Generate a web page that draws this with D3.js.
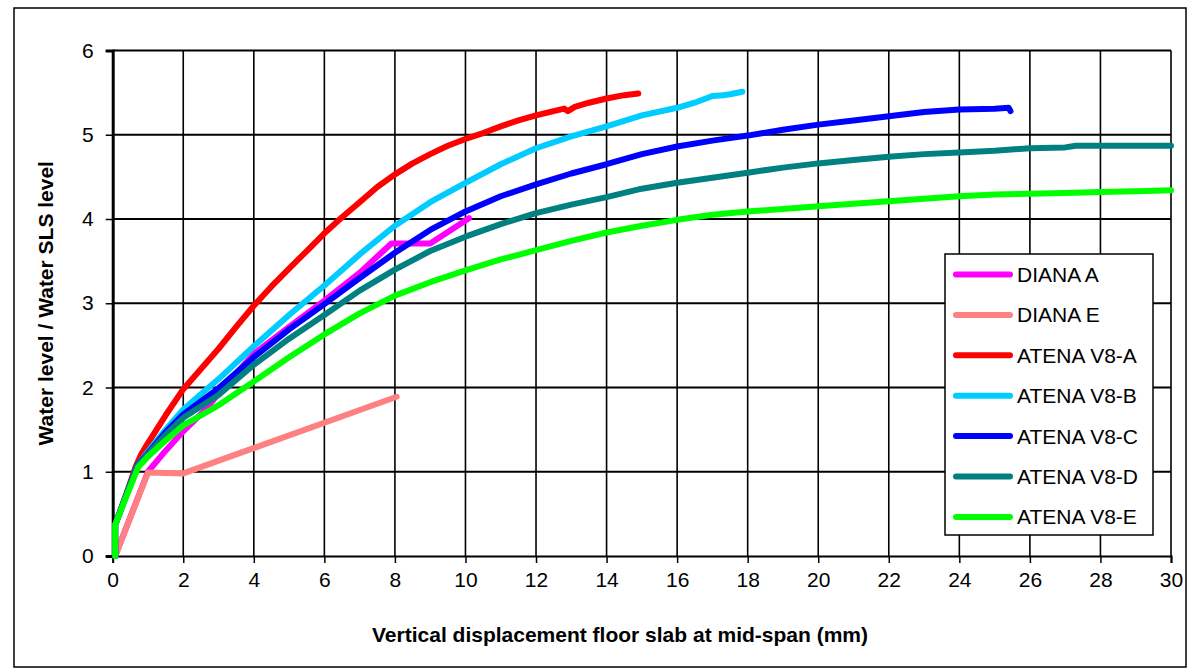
<!DOCTYPE html>
<html>
<head>
<meta charset="utf-8">
<script src="https://cdn.jsdelivr.net/npm/d3@7"></script>
<style>
  html, body { margin: 0; padding: 0; background: #fff; }
  svg { display: block; font-family: "Liberation Sans", Arial, sans-serif; }
</style>
</head>
<body>
<svg id="chart" width="1193" height="671"></svg>
<script>
// Load–deflection results: water level ratio vs. mid-span slab displacement
const xTicks = [0, 2, 4, 6, 8, 10, 12, 14, 16, 18, 20, 22, 24, 26, 28, 30];
const yTicks = [0, 1, 2, 3, 4, 5, 6];

const seriesNames = ["DIANA A", "DIANA E", "ATENA V8-A", "ATENA V8-B", "ATENA V8-C", "ATENA V8-D", "ATENA V8-E"];
const seriesColors = ["#FF00FF", "#FF8080", "#FF0000", "#00CCFF", "#0000FF", "#008080", "#00FF00"];

// [displacement (mm), water level / SLS level]
const dianaA = [[0.07,0],[1.0,1.0],[1.5,1.25],[2.0,1.48],[2.66,1.75],[3,1.93],[4,2.4],[5,2.72],[6,3.03],[7,3.36],[7.9,3.71],[9.0,3.71],[10.1,4.01]];
const dianaE = [[0.07,0],[1.0,0.99],[2.0,0.98],[8.05,1.89]];
const atenaA = [[0.07,0],[0.07,0.37],[0.4,0.75],[0.65,1.06],[0.8,1.2],[1,1.34],[1.5,1.67],[2,1.98],[2.5,2.22],[3,2.46],[3.5,2.72],[4,2.97],[4.5,3.2],[5,3.41],[5.5,3.62],[6,3.83],[6.5,4.02],[7,4.2],[7.5,4.38],[8,4.53],[8.5,4.66],[9,4.77],[9.5,4.87],[10,4.95],[10.5,5.02],[11,5.1],[11.5,5.17],[12,5.23],[12.5,5.28],[12.8,5.31],[12.9,5.28],[13.1,5.33],[13.5,5.38],[14,5.43],[14.5,5.47],[14.9,5.49]];
const atenaB = [[0.07,0],[0.07,0.37],[0.4,0.74],[0.7,1.08],[1,1.24],[1.5,1.5],[2,1.74],[3,2.1],[4,2.49],[5,2.86],[6,3.21],[7,3.58],[8,3.92],[9,4.2],[10,4.43],[11,4.65],[12,4.84],[13,4.98],[14,5.1],[15,5.23],[16,5.32],[16.5,5.38],[17,5.46],[17.3,5.47],[17.5,5.48],[17.85,5.51]];
const atenaC = [[0.07,0],[0.07,0.37],[0.4,0.74],[0.7,1.08],[1,1.22],[1.5,1.47],[2,1.68],[3,1.99],[4,2.36],[5,2.69],[6,2.99],[7,3.3],[8,3.6],[9,3.87],[10,4.09],[11,4.27],[12,4.41],[13,4.54],[14,4.65],[15,4.77],[16,4.86],[17,4.93],[18,4.99],[19,5.06],[20,5.12],[21,5.17],[22,5.22],[23,5.27],[24,5.3],[25,5.31],[25.4,5.32],[25.45,5.28]];
const atenaD = [[0.07,0],[0.07,0.37],[0.4,0.74],[0.7,1.07],[1,1.21],[1.5,1.44],[2,1.64],[3,1.91],[4,2.27],[5,2.58],[6,2.86],[7,3.15],[8,3.4],[9,3.62],[10,3.79],[11,3.94],[12,4.07],[13,4.17],[14,4.26],[15,4.36],[16,4.43],[17,4.49],[18,4.55],[19,4.61],[20,4.66],[21,4.7],[22,4.74],[23,4.77],[24,4.79],[25,4.81],[26,4.84],[27,4.85],[27.3,4.87],[28,4.87],[29,4.87],[30,4.87]];
const atenaE = [[0.07,0],[0.07,0.37],[0.4,0.72],[0.73,1.06],[1,1.18],[1.5,1.37],[2,1.55],[2.76,1.73],[3,1.79],[4,2.07],[5,2.36],[6,2.63],[7,2.88],[8,3.09],[9,3.25],[10,3.39],[11,3.52],[12,3.63],[13,3.74],[14,3.84],[15,3.92],[16,3.99],[17,4.05],[18,4.09],[19,4.12],[20,4.15],[21,4.18],[22,4.21],[23,4.24],[24,4.27],[25,4.29],[26,4.3],[27,4.31],[28,4.32],[29,4.33],[30,4.34]];

const seriesData = [dianaA, dianaE, atenaA, atenaB, atenaC, atenaD, atenaE];

const svg = d3.select("#chart");
const FONT = 21;

const x = d3.scaleLinear().domain([0, 30]).range([112.7, 1171]);
const y = d3.scaleLinear().domain([0, 6]).range([556, 50.5]);

// outer chart frame
svg.append("rect")
  .attr("x", 14).attr("y", 8).attr("width", 1172).attr("height", 659)
  .attr("fill", "#fff").attr("stroke", "#000").attr("stroke-width", 1.5);

// grid
const grid = svg.append("g");
grid.selectAll("line.v").data(xTicks.slice(1)).join("line")
  .attr("x1", d => x(d)).attr("x2", d => x(d))
  .attr("y1", y(6)).attr("y2", y(0))
  .attr("stroke", "#000").attr("stroke-width", 1.6);
grid.selectAll("line.h").data(yTicks.slice(1)).join("line")
  .attr("x1", x(0)).attr("x2", x(30))
  .attr("y1", d => y(d)).attr("y2", d => y(d))
  .attr("stroke", "#000").attr("stroke-width", 2);

// axes
const xAxis = d3.axisBottom(x).tickValues(xTicks).tickSize(7).tickPadding(9).tickFormat(d3.format("d"));
const yAxis = d3.axisLeft(y).tickValues(yTicks).tickSize(7).tickPadding(12).tickFormat(d3.format("d"));

const gx = svg.append("g").attr("transform", `translate(0,${y(0)})`).call(xAxis);
const gy = svg.append("g").attr("transform", `translate(${x(0)},0)`).call(yAxis);

[gx, gy].forEach(g => {
  g.select(".domain").attr("stroke", "#000");
  g.selectAll(".tick line").attr("stroke", "#000").attr("stroke-width", 1.5);
  g.selectAll(".tick text").attr("fill", "#000")
    .style("font-size", FONT + "px")
    .style("font-family", '"Liberation Sans", Arial, sans-serif');
});
gx.select(".domain").attr("stroke-width", 2);
gy.select(".domain").attr("stroke-width", 3);

// series lines
const line = d3.line().x(d => x(d[0])).y(d => y(d[1])).curve(d3.curveLinear);
svg.append("g").selectAll("path").data(seriesData).join("path")
  .attr("d", line)
  .attr("fill", "none")
  .attr("stroke", (d, i) => seriesColors[i])
  .attr("stroke-width", 6)
  .attr("stroke-linejoin", "round")
  .attr("stroke-linecap", "round");

// axis titles
svg.append("text")
  .attr("x", 620).attr("y", 642)
  .attr("text-anchor", "middle")
  .style("font-size", FONT + "px").style("font-weight", "bold")
  .text("Vertical displacement floor slab at mid-span (mm)");

svg.append("text")
  .attr("transform", `translate(53,${(y(0) + y(6)) / 2}) rotate(-90)`)
  .attr("text-anchor", "middle")
  .style("font-size", FONT + "px").style("font-weight", "bold")
  .text("Water level / Water SLS level");

// legend
const legend = svg.append("g");
legend.append("rect")
  .attr("x", 945).attr("y", 254).attr("width", 208).attr("height", 281)
  .attr("fill", "#fff").attr("stroke", "#000").attr("stroke-width", 1.5);
const rows = legend.selectAll("g.row").data(seriesNames).join("g")
  .attr("transform", (d, i) => `translate(0,${274.5 + i * 40.4})`);
rows.append("line")
  .attr("x1", 956).attr("x2", 1010)
  .attr("stroke", (d, i) => seriesColors[i])
  .attr("stroke-width", 6).attr("stroke-linecap", "round");
rows.append("text")
  .attr("x", 1017).attr("dy", "0.36em")
  .style("font-size", FONT + "px")
  .text(d => d);
</script>
</body>
</html>
